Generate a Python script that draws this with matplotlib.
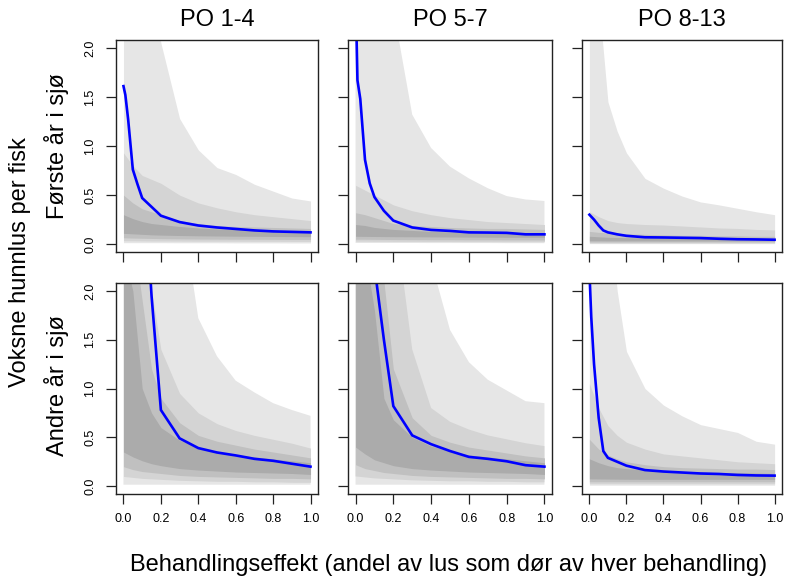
import numpy as np
import matplotlib
matplotlib.use("Agg")
import matplotlib.pyplot as plt

plt.rcParams["font.family"] = ["Liberation Sans", "DejaVu Sans"]

# x-verdier (behandlingseffekt)
x_med = [0, 0.01, 0.025, 0.05, 0.075, 0.1, 0.15, 0.2, 0.3, 0.4, 0.5, 0.6, 0.7, 0.8, 0.9, 1.0]
x_band = [0, 0.05, 0.1, 0.15, 0.2, 0.3, 0.4, 0.5, 0.6, 0.7, 0.8, 0.9, 1.0]

col_titles = ["PO 1-4", "PO 5-7", "PO 8-13"]
row_titles = ["Første år i sjø", "Andre år i sjø"]

# --- Første år i sjø ---
# PO 1-4
p1_median = [1.61, 1.52, 1.27, 0.76, 0.61, 0.47, 0.38, 0.29, 0.225, 0.19, 0.17, 0.155, 0.14, 0.13, 0.125, 0.12]
p1_upper = [  # ytre -> indre
    [5.0, 4.2, 3.5, 2.7, 2.05, 1.28, 0.96, 0.78, 0.71, 0.61, 0.54, 0.47, 0.44],
    [0.93, 0.80, 0.70, 0.66, 0.62, 0.50, 0.42, 0.37, 0.33, 0.30, 0.28, 0.26, 0.24],
    [0.50, 0.42, 0.36, 0.33, 0.30, 0.24, 0.21, 0.19, 0.18, 0.175, 0.17, 0.165, 0.16],
    [0.30, 0.26, 0.23, 0.21, 0.20, 0.18, 0.165, 0.155, 0.15, 0.145, 0.14, 0.135, 0.13],
]
p1_lower = [
    [0.015, 0.015, 0.015, 0.015, 0.015, 0.014, 0.014, 0.014, 0.013, 0.013, 0.013, 0.012, 0.012],
    [0.035, 0.034, 0.033, 0.032, 0.032, 0.031, 0.030, 0.030, 0.030, 0.029, 0.029, 0.028, 0.028],
    [0.065, 0.062, 0.060, 0.058, 0.056, 0.054, 0.052, 0.051, 0.050, 0.050, 0.049, 0.048, 0.048],
    [0.11, 0.105, 0.10, 0.095, 0.092, 0.088, 0.085, 0.083, 0.081, 0.080, 0.078, 0.077, 0.076],
]

# PO 5-7
p2_median = [2.6, 1.67, 1.48, 0.86, 0.62, 0.48, 0.34, 0.24, 0.17, 0.145, 0.135, 0.12, 0.118, 0.115, 0.10, 0.10]
p2_upper = [
    [6.0, 5.0, 4.0, 3.2, 2.4, 1.32, 0.98, 0.79, 0.67, 0.57, 0.49, 0.455, 0.44],
    [0.60, 0.55, 0.50, 0.45, 0.40, 0.34, 0.30, 0.27, 0.25, 0.23, 0.22, 0.21, 0.20],
    [0.32, 0.30, 0.27, 0.24, 0.21, 0.19, 0.18, 0.17, 0.165, 0.16, 0.16, 0.155, 0.15],
    [0.20, 0.19, 0.17, 0.16, 0.15, 0.14, 0.13, 0.125, 0.12, 0.115, 0.11, 0.11, 0.11],
]
p2_lower = [
    [0.012, 0.012, 0.012, 0.012, 0.012, 0.012, 0.011, 0.011, 0.011, 0.011, 0.010, 0.010, 0.010],
    [0.030, 0.030, 0.029, 0.029, 0.028, 0.028, 0.027, 0.027, 0.026, 0.026, 0.025, 0.025, 0.025],
    [0.050, 0.050, 0.049, 0.048, 0.047, 0.046, 0.045, 0.045, 0.044, 0.044, 0.043, 0.043, 0.042],
    [0.080, 0.079, 0.078, 0.077, 0.076, 0.075, 0.074, 0.073, 0.072, 0.071, 0.070, 0.070, 0.070],
]

# PO 8-13
p3_median = [0.30, 0.28, 0.25, 0.19, 0.14, 0.12, 0.10, 0.085, 0.07, 0.068, 0.065, 0.062, 0.055, 0.05, 0.048, 0.045]
p3_upper = [
    [5.0, 2.5, 1.45, 1.15, 0.93, 0.67, 0.57, 0.49, 0.43, 0.40, 0.365, 0.33, 0.30],
    [0.33, 0.28, 0.24, 0.22, 0.21, 0.20, 0.195, 0.185, 0.175, 0.165, 0.16, 0.15, 0.145],
    [0.13, 0.12, 0.115, 0.11, 0.105, 0.10, 0.095, 0.09, 0.09, 0.085, 0.085, 0.08, 0.08],
    [0.08, 0.075, 0.07, 0.068, 0.066, 0.064, 0.062, 0.06, 0.06, 0.058, 0.058, 0.056, 0.056],
]
p3_lower = [
    [0.005, 0.005, 0.005, 0.005, 0.005, 0.005, 0.005, 0.005, 0.005, 0.005, 0.005, 0.005, 0.005],
    [0.012, 0.012, 0.012, 0.012, 0.012, 0.012, 0.012, 0.012, 0.012, 0.012, 0.012, 0.012, 0.012],
    [0.022, 0.022, 0.022, 0.022, 0.022, 0.022, 0.022, 0.022, 0.022, 0.022, 0.022, 0.022, 0.022],
    [0.035, 0.035, 0.034, 0.034, 0.034, 0.034, 0.033, 0.033, 0.033, 0.033, 0.033, 0.033, 0.033],
]

# --- Andre år i sjø ---
# PO 1-4
p4_median = [8.0, 7.0, 6.0, 5.0, 4.2, 3.5, 1.95, 0.78, 0.49, 0.39, 0.345, 0.315, 0.28, 0.26, 0.23, 0.20]
p4_upper = [
    [8.0, 7.0, 6.0, 5.0, 4.2, 3.0, 1.72, 1.33, 1.08, 0.96, 0.85, 0.78, 0.72],
    [5.0, 4.0, 3.0, 2.0, 1.4, 0.95, 0.75, 0.64, 0.57, 0.52, 0.48, 0.44, 0.39],
    [3.2, 2.6, 1.9, 1.2, 0.90, 0.65, 0.52, 0.46, 0.42, 0.38, 0.35, 0.32, 0.29],
    [2.4, 2.0, 1.0, 0.75, 0.60, 0.47, 0.40, 0.35, 0.32, 0.30, 0.28, 0.26, 0.24],
]
p4_lower = [
    [0.015, 0.015, 0.015, 0.015, 0.015, 0.015, 0.015, 0.015, 0.015, 0.015, 0.015, 0.015, 0.015],
    [0.10, 0.09, 0.08, 0.075, 0.07, 0.06, 0.055, 0.05, 0.05, 0.045, 0.045, 0.04, 0.04],
    [0.20, 0.17, 0.15, 0.14, 0.13, 0.11, 0.10, 0.095, 0.09, 0.085, 0.08, 0.08, 0.075],
    [0.35, 0.30, 0.26, 0.23, 0.21, 0.18, 0.165, 0.155, 0.145, 0.14, 0.135, 0.13, 0.12],
]

# PO 5-7
p5_median = [6.0, 5.5, 4.8, 3.8, 3.0, 2.25, 1.5, 0.82, 0.52, 0.43, 0.36, 0.30, 0.28, 0.255, 0.215, 0.20]
p5_upper = [
    [8.0, 7.5, 7.0, 6.0, 5.0, 3.8, 2.3, 1.6, 1.27, 1.09, 0.98, 0.87, 0.85],
    [6.0, 5.0, 4.0, 3.4, 2.9, 1.4, 0.80, 0.66, 0.58, 0.52, 0.48, 0.44, 0.41],
    [4.0, 3.2, 2.5, 2.1, 1.2, 0.70, 0.52, 0.45, 0.40, 0.37, 0.34, 0.31, 0.29],
    [2.8, 2.4, 1.8, 0.9, 0.68, 0.5, 0.41, 0.36, 0.32, 0.30, 0.28, 0.26, 0.24],
]
p5_lower = [
    [0.015, 0.015, 0.015, 0.015, 0.015, 0.015, 0.015, 0.015, 0.015, 0.015, 0.015, 0.015, 0.015],
    [0.10, 0.09, 0.08, 0.075, 0.07, 0.06, 0.055, 0.05, 0.05, 0.045, 0.045, 0.04, 0.04],
    [0.22, 0.18, 0.16, 0.14, 0.13, 0.11, 0.10, 0.095, 0.09, 0.085, 0.08, 0.08, 0.075],
    [0.40, 0.33, 0.27, 0.24, 0.21, 0.18, 0.165, 0.155, 0.145, 0.14, 0.135, 0.13, 0.12],
]

# PO 8-13
p6_median = [2.2, 1.73, 1.25, 0.70, 0.36, 0.29, 0.25, 0.21, 0.165, 0.15, 0.14, 0.13, 0.125, 0.115, 0.11, 0.108]
p6_upper = [
    [5.0, 4.0, 3.0, 2.0, 1.38, 1.0, 0.83, 0.72, 0.63, 0.59, 0.55, 0.46, 0.43],
    [1.05, 0.80, 0.62, 0.52, 0.45, 0.38, 0.33, 0.31, 0.29, 0.27, 0.25, 0.24, 0.23],
    [0.48, 0.38, 0.32, 0.28, 0.25, 0.22, 0.20, 0.19, 0.185, 0.18, 0.175, 0.175, 0.17],
    [0.28, 0.24, 0.21, 0.19, 0.18, 0.165, 0.155, 0.15, 0.145, 0.14, 0.14, 0.135, 0.13],
]
p6_lower = [
    [0.010, 0.010, 0.010, 0.010, 0.010, 0.010, 0.010, 0.010, 0.010, 0.010, 0.010, 0.010, 0.010],
    [0.025, 0.025, 0.025, 0.025, 0.025, 0.025, 0.025, 0.025, 0.025, 0.025, 0.025, 0.025, 0.025],
    [0.045, 0.045, 0.045, 0.045, 0.045, 0.045, 0.045, 0.045, 0.045, 0.045, 0.045, 0.045, 0.045],
    [0.075, 0.074, 0.073, 0.072, 0.071, 0.070, 0.070, 0.070, 0.070, 0.070, 0.070, 0.070, 0.070],
]

medians = [p1_median, p2_median, p3_median, p4_median, p5_median, p6_median]
uppers = [p1_upper, p2_upper, p3_upper, p4_upper, p5_upper, p6_upper]
lowers = [p1_lower, p2_lower, p3_lower, p4_lower, p5_lower, p6_lower]

band_colors = ["#E6E6E6", "#D4D4D4", "#C0C0C0", "#ABABAB"]

W, H = 789, 579
fig = plt.figure(figsize=(W / 100, H / 100), dpi=100)

col_left = [116, 348, 582]
col_width = [202, 204, 200]
row_top = [40, 283]
row_height = [212, 211]

for i in range(6):
    r, c = divmod(i, 3)
    ax = fig.add_axes([col_left[c] / W, 1 - (row_top[r] + row_height[r]) / H,
                       col_width[c] / W, row_height[r] / H])
    for k in range(4):
        ax.fill_between(x_band, lowers[i][k], uppers[i][k], color=band_colors[k], lw=0)
    ax.plot(x_med, medians[i], color="#0000FF", lw=1.9, solid_joinstyle="miter")

    ax.set_xlim(-0.04, 1.04)
    ax.set_ylim(-0.08, 2.08)
    ax.set_xticks(np.arange(0, 1.01, 0.2))
    ax.set_yticks(np.arange(0, 2.01, 0.5))
    ax.tick_params(length=7, width=0.9, color="#222222", labelsize=9, pad=7)
    for s in ax.spines.values():
        s.set_color("#222222")
        s.set_linewidth(1.0)

    if r == 1:
        ax.set_xticklabels([f"{v:.1f}" for v in np.arange(0, 1.01, 0.2)])
    else:
        ax.set_xticklabels([])
    if c == 0:
        ax.set_yticklabels([f"{v:.1f}" for v in np.arange(0, 2.01, 0.5)],
                           rotation=90, va="center")
    else:
        ax.set_yticklabels([])

    if r == 0:
        ax.set_title(col_titles[c], fontsize=17, pad=10)

# radtitler og aksetitler
fig.text(57 / W, 1 - 146 / H, row_titles[0], rotation=90, fontsize=17, ha="center", va="center")
fig.text(57 / W, 1 - 386 / H, row_titles[1], rotation=90, fontsize=17, ha="center", va="center")
fig.text(20 / W, 1 - 262 / H, "Voksne hunnlus per fisk", rotation=90, fontsize=17,
         ha="center", va="center")
fig.text(449 / W, 1 - 565 / H, "Behandlingseffekt (andel av lus som dør av hver behandling)",
         fontsize=17, ha="center", va="center")

fig.savefig("out.png", dpi=100)
